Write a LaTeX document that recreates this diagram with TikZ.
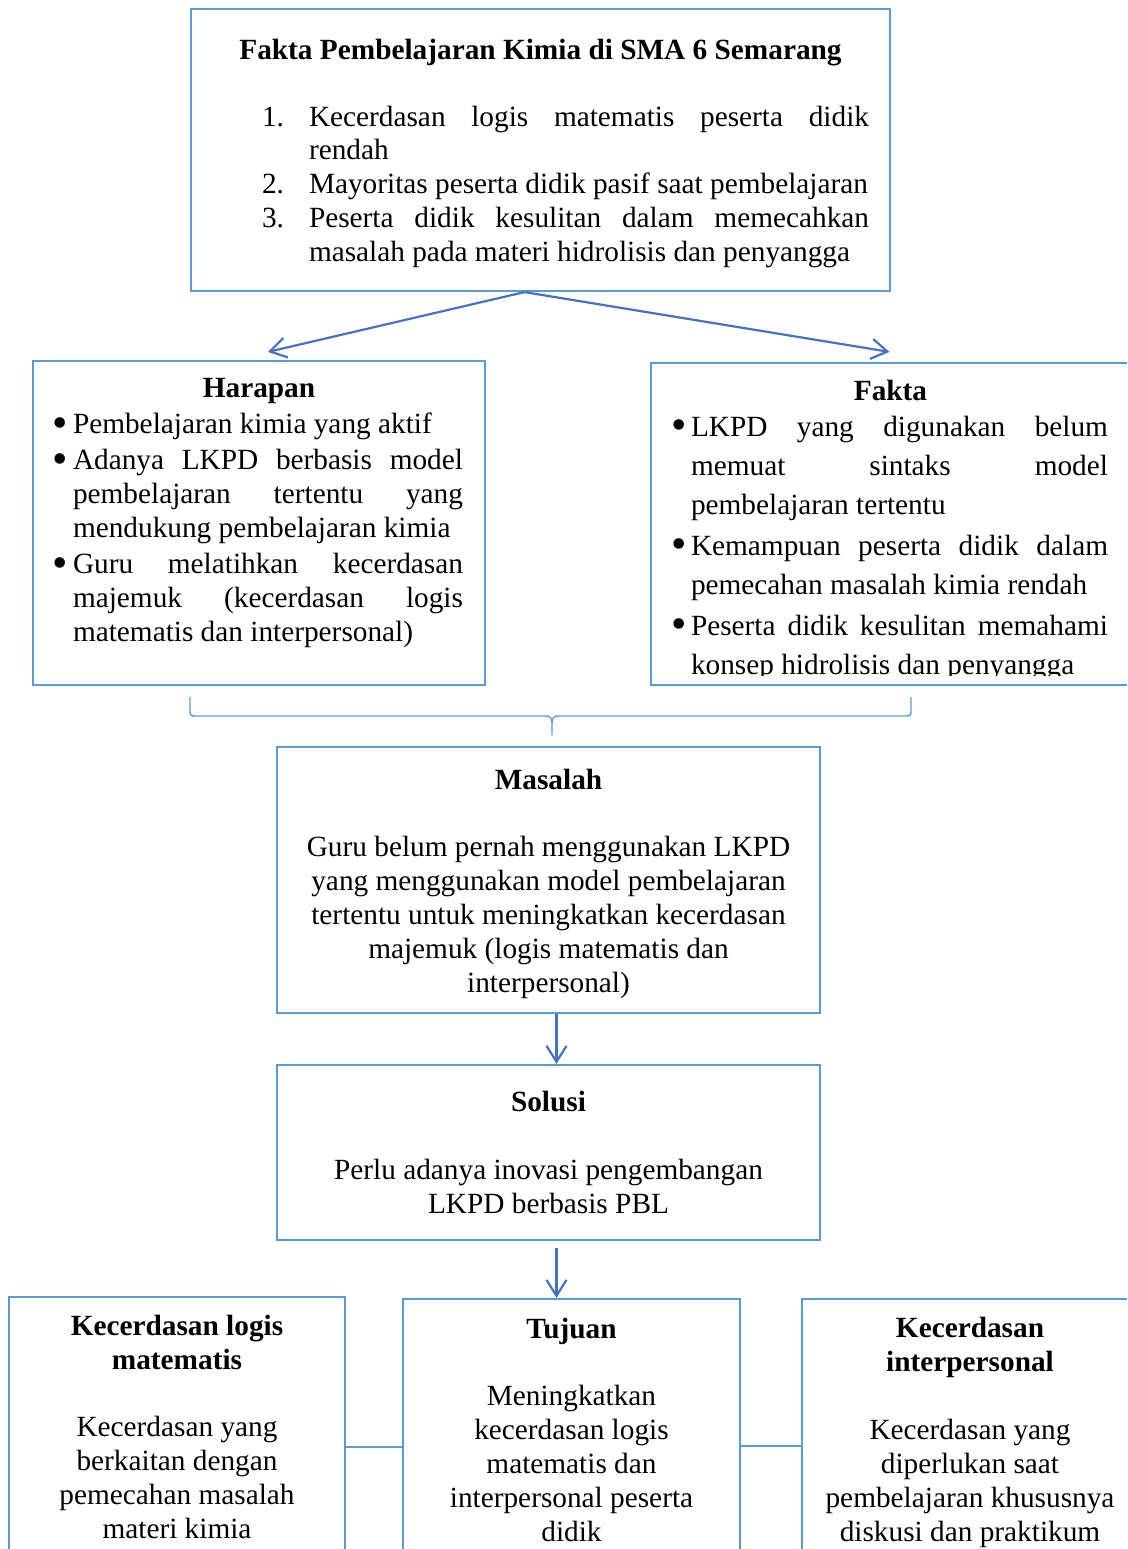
\documentclass[tikz,border=0pt]{standalone}
\usepackage{fontspec}
\setmainfont{Liberation Serif}
\usetikzlibrary{positioning, arrows.meta, calc}
\definecolor{boxblue}{RGB}{91,155,213}
\definecolor{arrowblue}{RGB}{68,114,196}
\hyphenpenalty=10000
\exhyphenpenalty=10000
\tolerance=10000
\newcommand{\numitem}[2]{\hangindent=47pt\hangafter=1\noindent\makebox[47pt][l]{#1}#2\par}
\newcommand{\dotitem}[1]{\hangindent=18pt\hangafter=1\noindent\makebox[18pt][l]{\hspace*{-2pt}\smash{\raisebox{-3.5pt}{\scalebox{1.5}{\textbullet}}}}#1\par}

\begin{document}
\begin{tikzpicture}[x=1pt, y=-1pt,
	box/.style={draw=boxblue, line width=2.2pt, rectangle, inner sep=0pt},
	txt/.style={inner sep=0pt, font=\fontsize{29.3}{34}\selectfont},
	title/.style={txt, font=\fontsize{29.3}{34}\selectfont\bfseries, align=center},
	body/.style={txt, align=center},
	list/.style={txt, align=justify, execute at begin node={\parindent=0pt\parskip=2pt}},
	arrowStrong/.style={draw=arrowblue, line width=2.2pt, -{Straight Barb[length=16pt,width=20pt]}},
	link/.style={draw=boxblue, line width=1.5pt},
	brace/.style={draw=boxblue, line width=1.4pt},
	]
	\clip (0,0) rectangle (1127,1549);
	
	% boxes
	\node[box, minimum width=699pt, minimum height=282pt] (topBox) at (540.5,150) {};
	\node[box, minimum width=452pt, minimum height=324pt] (harapan) at (259,523) {};
	\node[box, minimum width=479pt, minimum height=322pt] (fakta) at (890.5,524) {};
	\node[box, minimum width=543pt, minimum height=266pt] (masalah) at (548.5,880) {};
	\node[box, minimum width=543pt, minimum height=175pt] (solusi) at (548.5,1152.5) {};
	\node[box, minimum width=336pt, minimum height=300pt] (logis) at (177,1447) {};
	\node[box, minimum width=337pt, minimum height=294pt] (tujuan) at (571.5,1446) {};
	\node[box, minimum width=336pt, minimum height=294pt] (inter) at (970,1446) {};
	
	% top box
	\node[title, below=31pt of topBox.north] (topTitle) {Fakta Pembelajaran Kimia di SMA 6 Semarang};
	\node[list, font=\fontsize{29.3}{33.5}\selectfont, text width=607pt, below=98pt of topBox.north, xshift=25pt,
		execute at begin node={\parindent=0pt\parskip=0.5pt}] (topList) {%
		\numitem{1.}{Kecerdasan logis matematis peserta didik\linebreak rendah}
		\numitem{2.}{Mayoritas peserta didik pasif saat pembelajaran}
		\numitem{3.}{Peserta didik kesulitan dalam memecahkan\linebreak masalah pada materi hidrolisis dan penyangga}};
	
	% harapan
	\node[title, below=18pt of harapan.north] (harapanTitle) {Harapan};
	\node[list, text width=408pt, below=53pt of harapan.north] (harapanList) {%
		\dotitem{Pembelajaran kimia yang aktif}
		\dotitem{Adanya LKPD berbasis model\linebreak pembelajaran tertentu yang\linebreak mendukung pembelajaran kimia}
		\dotitem{Guru melatihkan kecerdasan\linebreak majemuk (kecerdasan logis\linebreak matematis dan interpersonal)}};
	
	% fakta (text runs past the box and is cut)
	\node[title, below=18pt of fakta.north] (faktaTitle) {Fakta};
	\begin{scope}
		\clip (fakta.north west) rectangle ([yshift=11pt]fakta.south east);
		\node[list, font=\fontsize{29.3}{39}\selectfont, text width=435pt, below=54pt of fakta.north] (faktaList) {%
			\dotitem{LKPD yang digunakan belum\linebreak memuat sintaks model\linebreak pembelajaran tertentu}
			\dotitem{Kemampuan peserta didik dalam\linebreak pemecahan masalah kimia rendah}
			\dotitem{Peserta didik kesulitan memahami\linebreak konsep hidrolisis dan penyangga}};
	\end{scope}
	
	% masalah
	\node[title, below=23pt of masalah.north] (masalahTitle) {Masalah};
	\node[body, below=90pt of masalah.north] (masalahText) {Guru belum pernah menggunakan LKPD\\yang menggunakan model pembelajaran\\tertentu untuk meningkatkan kecerdasan\\majemuk (logis matematis dan\\interpersonal)};
	
	% solusi
	\node[title, below=27pt of solusi.north] (solusiTitle) {Solusi};
	\node[body, below=95pt of solusi.north] (solusiText) {Perlu adanya inovasi pengembangan\\LKPD berbasis PBL};
	
	% bottom row
	\node[title, below=19pt of logis.north] (logisTitle) {Kecerdasan logis\\matematis};
	\node[body, below=120pt of logis.north] (logisText) {Kecerdasan yang\\berkaitan dengan\\pemecahan masalah\\materi kimia};
	\node[title, below=20pt of tujuan.north] (tujuanTitle) {Tujuan};
	\node[body, below=87pt of tujuan.north] (tujuanText) {Meningkatkan\\kecerdasan logis\\matematis dan\\interpersonal peserta\\didik};
	\node[title, below=19pt of inter.north] (interTitle) {Kecerdasan\\interpersonal};
	\node[body, below=121pt of inter.north] (interText) {Kecerdasan yang\\diperlukan saat\\pembelajaran khususnya\\diskusi dan praktikum};
	
	% brace
	\coordinate (braceL) at (190,697);
	\coordinate (braceR) at (911,697);
	\coordinate (braceTip) at (552,735);
	\draw[brace] (braceL) -- ++(0,14) .. controls ++(0,4) and ++(-4,0) .. ++(5,5) -- ($(braceTip)+(-6,-19)$)
		.. controls ++(4,0) and ++(0,-5) .. ($(braceTip)+(0,-12)$) -- (braceTip);
	\draw[brace] (braceR) -- ++(0,14) .. controls ++(0,4) and ++(4,0) .. ++(-5,5) -- ($(braceTip)+(6,-19)$)
		.. controls ++(-4,0) and ++(0,-5) .. ($(braceTip)+(0,-12)$);
	
	% Arrow
	\draw[arrowStrong] ([xshift=-16pt]topBox.south) -- ([shift={(9,-8)}]harapan.north);
	\draw[arrowStrong] ([xshift=-16pt]topBox.south) -- ([shift={(-1,-10)}]fakta.north);
	\draw[arrowStrong] ([xshift=8pt]masalah.south) -- ([xshift=8pt]solusi.north);
	\draw[arrowStrong] ([shift={(8,7)}]solusi.south) -- ([xshift=-15pt]tujuan.north);
	
	\draw[link] (logis.east) -- (logis.east -| tujuan.west);
	\draw[link] (tujuan.east) -- (inter.west);
\end{tikzpicture}
\end{document}
